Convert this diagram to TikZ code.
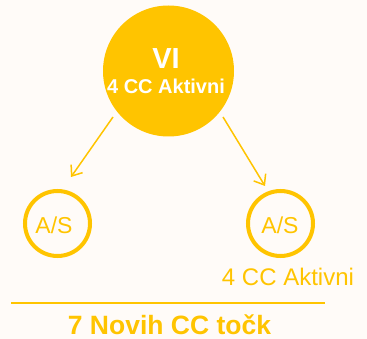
\documentclass[tikz,border=0pt]{standalone}
\usepackage{fontspec}
\setmainfont{Liberation Sans}
\usetikzlibrary{arrows.meta}
\definecolor{bgc}{RGB}{255,251,248}
\definecolor{ylw}{RGB}{255,196,0}
\tikzset{
  bigc/.style={circle, fill=ylw, minimum size=131pt, inner sep=0pt},
  smallc/.style={circle, draw=ylw, line width=4pt, minimum size=65pt, inner sep=0pt},
  conn/.style={draw=ylw, line width=1.5pt, -{Straight Barb[length=9pt,width=14pt,line width=1.5pt]}},
  lbl/.style={anchor=base, text=ylw, inner sep=0pt, font=\fontsize{24}{28}\selectfont},
}
\begin{document}
\begin{tikzpicture}[x=1pt,y=-1pt]
\fill[bgc] (0,0) rectangle (367,339);
\useasboundingbox (0,0) rectangle (367,339);
\node[bigc] (top) at (168.5,71) {};
\node[anchor=base, text=white, inner sep=0pt, font=\bfseries\fontsize{29}{32}\selectfont] (vi) at (166,69) {VI};
\node[anchor=base, text=white, inner sep=0pt, font=\bfseries\fontsize{20}{24}\selectfont] (act) at (166,94) {4 CC Aktivni};
\node[smallc] (l) at (57.5,223.5) {};
\node[smallc] (r) at (280.5,223.5) {};
\node[lbl, font=\fontsize{23}{28}\selectfont] (lt) at (54,234) {A/S};
\node[lbl, font=\fontsize{23}{28}\selectfont] (rt) at (280,234) {A/S};
\node[lbl] (ract) at (288,286) {4 CC Aktivni};
\coordinate (a1s) at (113,117);
\coordinate (a1e) at (71,177);
\coordinate (a2s) at (223,117);
\coordinate (a2e) at (265,186);
\draw[conn] (a1s) -- (a1e);
\draw[conn] (a2s) -- (a2e);
\coordinate (ls) at (11,303.3);
\coordinate (le) at (325,303.3);
\draw[ylw, line width=2pt] (ls) -- (le);
\node[anchor=base, text=ylw, inner sep=0pt, font=\bfseries\fontsize{26.5}{30}\selectfont] (tot) at (169.5,334.5) {7 Novih CC točk};
\end{tikzpicture}
\end{document}
